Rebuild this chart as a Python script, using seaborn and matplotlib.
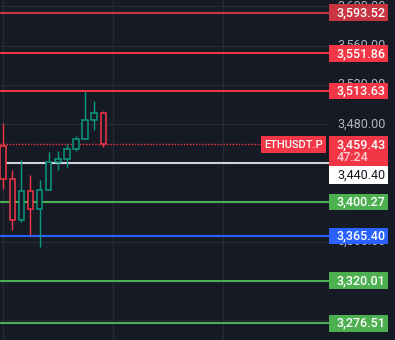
import matplotlib
matplotlib.use("Agg")
import matplotlib.pyplot as plt
import matplotlib.patches as mpatches
import seaborn as sns
import numpy as np
import pandas as pd

# ---------------- data ----------------
opens  = [3457.4, 3423.5, 3381.6, 3411.2, 3392.9, 3412.2, 3441.4, 3443.9, 3454.1, 3464.3, 3483.7, 3490.8]
closes = [3423.5, 3381.6, 3411.2, 3392.9, 3412.2, 3441.4, 3443.9, 3454.1, 3464.3, 3483.7, 3490.8, 3459.43]
highs  = [3480.9, 3433.0, 3443.2, 3427.6, 3422.8, 3451.3, 3452.6, 3459.2, 3467.6, 3513.6, 3503.4, 3493.2]
lows   = [3413.9, 3371.7, 3380.2, 3366.6, 3354.7, 3412.2, 3433.3, 3436.3, 3452.7, 3464.3, 3473.8, 3456.7]

level_values = [3593.52, 3551.86, 3513.63, 3440.40, 3400.27, 3365.40, 3320.01, 3276.51]
level_labels = ["3,593.52", "3,551.86", "3,513.63", "3,440.40", "3,400.27", "3,365.40", "3,320.01", "3,276.51"]
level_colors = ["#c8343f", "#f23645", "#f23645", "#d1d4dc", "#4caf50", "#2962ff", "#4caf50", "#4caf50"]

last_price = 3459.43
last_label = "3,459.43"
countdown = "47:24"
symbol = "ETHUSDT.P"

tick_values = [3600, 3560, 3520, 3480, 3440, 3400, 3360, 3320, 3280]
tick_labels = ["3,600.00", "3,560.00", "3,520.00", "3,480.00", "3,440.00",
               "3,400.00", "3,360.00", "3,320.00", "3,280.00"]
# tick labels fully covered by price boxes in the reference
hidden_ticks = [3440, 3400, 3320]

# ---------------- style ----------------
bg = "#161a25"
grid_c = "#262a35"
up_c = "#089981"
dn_c = "#f23645"

sns.set_theme(style="dark", rc={"axes.facecolor": bg, "figure.facecolor": bg})
plt.rcParams['font.family'] = ['Roboto', 'DejaVu Sans']

W, H = 395, 340
fig = plt.figure(figsize=(W / 100, H / 100), dpi=100)
ax = fig.add_axes([0, 0, 1, 1])
ax.set_facecolor(bg)

# pixel <-> data helpers (layout only)
X0, DX = 3.2, 9.1
Y0, DY = 6.3, 0.98
def px2x(px):
    return (px - X0) / DX
def py2p(py):
    return 3600 - (py - Y0) / DY
def p2py(p):
    return Y0 + (3600 - p) * DY

ax.set_xlim(px2x(0), px2x(W))
ax.set_ylim(py2p(H), py2p(0))
for s in ax.spines.values():
    s.set_visible(False)
ax.set_xticks([])
ax.set_yticks([])
ax.grid(False)

right_end = px2x(329)

# grid
for gx in [3, 113, 223]:
    ax.axvline(px2x(gx), color=grid_c, lw=0.9, zorder=1)
ax.hlines(tick_values, px2x(0), px2x(328), color=grid_c, lw=0.9, zorder=1)

# level lines
for v, c in zip(level_values, level_colors):
    ax.hlines(v, px2x(0), right_end, color=c, lw=1.5, zorder=2)

# current price dotted
ax.hlines(last_price, px2x(0), px2x(261), color=dn_c, lw=1.0,
          linestyles=(0, (1, 1.2)), zorder=2)

# candles (hollow)
df = pd.DataFrame({"o": opens, "c": closes, "h": highs, "l": lows})
df["i"] = np.arange(len(df))
df["col"] = np.where(df["c"] >= df["o"], up_c, dn_c)
ax.vlines(df["i"], df["l"], df["h"], colors=df["col"], lw=1.0, zorder=3)
bot = np.minimum(df["o"], df["c"])
hgt = np.abs(df["c"] - df["o"])
ax.bar(df["i"], hgt, bottom=bot, width=0.6, facecolor=bg,
       edgecolor=df["col"], linewidth=1.1, zorder=4)

# tick labels
FS = 9
for v, t in zip(tick_values, tick_labels):
    if v in hidden_ticks:
        continue
    ax.text(px2x(337), v, t, color="#b2b5be", fontsize=FS, va="center",
            ha="left", zorder=5)

# label boxes
bx0, bx1 = px2x(329), px2x(388)
def box(ycenter_px, h_px, color, zorder=6):
    y_top = py2p(ycenter_px - h_px / 2)
    y_bot = py2p(ycenter_px + h_px / 2)
    r = mpatches.Rectangle((bx0, y_bot), bx1 - bx0, y_top - y_bot,
                           facecolor=color, edgecolor="none", zorder=zorder)
    ax.add_patch(r)

for v, t, c in zip(level_values, level_labels, level_colors):
    if t == "3,440.40":
        continue
    cy = p2py(v)
    box(cy, 16.5, c)
    ax.text(px2x(337), v, t, color="white", fontsize=FS, fontweight="medium",
            va="center", ha="left", zorder=7)

# current price box (two lines)
box(151, 30, dn_c)
ax.text(px2x(337), py2p(144.5), last_label, color="white", fontsize=FS,
        fontweight="medium", va="center", ha="left", zorder=7)
ax.text(px2x(337), py2p(157.5), countdown, color="#fbcdd1", fontsize=FS,
        fontweight="medium", va="center", ha="left", zorder=7)

# white box (shifted)
box(175, 18, "#ffffff")
ax.text(px2x(337), py2p(175), "3,440.40", color="#131722", fontsize=FS,
        va="center", ha="left", zorder=7)

# symbol box
sx0, sx1 = px2x(261), px2x(325.5)
r = mpatches.Rectangle((sx0, py2p(152.7)), sx1 - sx0, py2p(136) - py2p(152.7),
                       facecolor=dn_c, edgecolor="none", zorder=6)
ax.add_patch(r)
ax.text((sx0 + sx1) / 2, py2p(144.5), symbol, color="white", fontsize=8,
        fontweight="medium", va="center", ha="center", zorder=7)

fig.savefig("out.png", dpi=100, facecolor=bg)
